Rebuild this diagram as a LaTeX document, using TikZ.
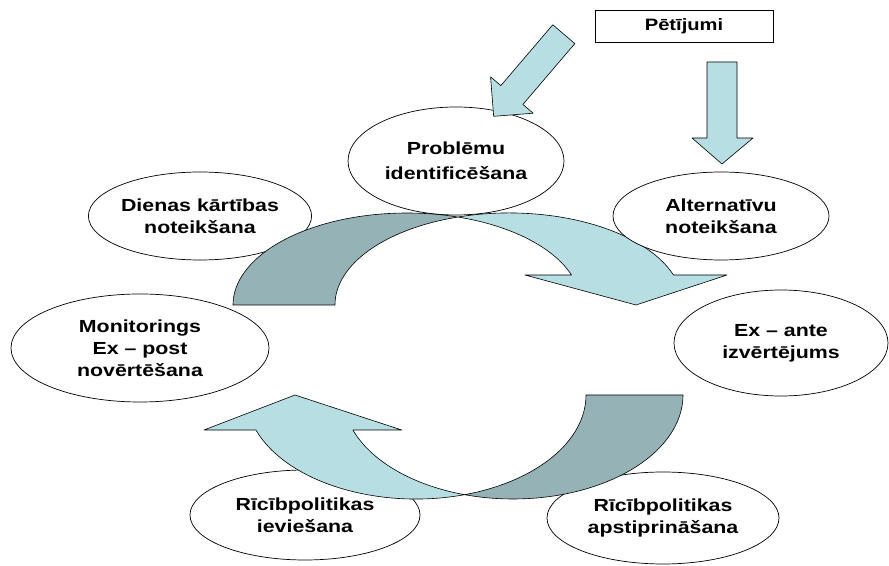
\documentclass[tikz,border=0pt]{standalone}
\usepackage{fontspec}
\setmainfont{Liberation Sans}[FakeStretch=1.22]
\usetikzlibrary{shapes.geometric}
\definecolor{bandlight}{RGB}{183,222,226}
\definecolor{banddark}{RGB}{149,178,182}

\begin{document}
\begin{tikzpicture}[x=1pt, y=1pt,
	stage/.style={ellipse, draw, fill=white, line width=0.7pt, inner sep=0pt,
	align=center, font=\bfseries\fontsize{17.5}{22}\selectfont},
	band/.style={draw, line width=0.6pt, line join=round},
	topring/.style={x radius=174, y radius=92},
	botring/.style={x radius=170, y radius=104}]
\useasboundingbox (0,0) rectangle (889,565);

\node[draw, line width=0.7pt, minimum width=178pt, minimum height=32pt,
	font=\bfseries\fontsize{16.5}{22}\selectfont] at (684,539) (research) {Pētījumi};

\node[stage, minimum width=216pt, minimum height=88pt] at (200,349) (agenda) {Dienas kārtības\\noteikšana};
\node[stage, minimum width=258pt, minimum height=108pt] at (140,217) (monitor) {Monitorings\\Ex -- post\\novērtēšana};
\node[stage, minimum width=230pt, minimum height=90pt] at (305,50) (implement) {Rīcībpolitikas\\ieviešana};
\node[stage, minimum width=232pt, minimum height=92pt] at (663,47) (adopt) {Rīcībpolitikas\\apstiprināšana};
\node[stage, minimum width=214pt, minimum height=106pt] at (781,222) (exante) {Ex -- ante\\izvērtējums};
\node[stage, minimum width=216pt, minimum height=108pt,
	font=\bfseries\fontsize{17.5}{25}\selectfont] at (456,404) (problem) {Problēmu\\identificēšana};

% upper half of the cycle
\path[band, fill=banddark] (233,260) arc[topring, start angle=180, end angle=72.96]
	arc[topring, start angle=107.04, end angle=180] -- cycle;
\path[band, fill=bandlight] (458,348) arc[topring, start angle=107.04, end angle=19.03]
	-- (727,290) -- (636,260) -- (525,290) -- (571.5,290)
	arc[topring, start angle=19.03, end angle=72.96] -- cycle;

% lower half of the cycle
\path[band, fill=banddark] (683,170) arc[botring, start angle=360, end angle=253.42]
	arc[botring, start angle=286.58, end angle=360] -- cycle;
\path[band, fill=bandlight] (464.5,70.3) arc[botring, start angle=286.58, end angle=199.67]
	-- (204,135) -- (295,170) -- (401.7,135) -- (352.9,135)
	arc[botring, start angle=199.67, end angle=253.42] -- cycle;

% research feeds in
\path[band, fill=bandlight] (707,503) -- (737,503) -- (737,427) -- (753,427)
	-- (722,401) -- (692,427) -- (707,427) -- cycle;
\begin{scope}[shift={(563.8,530.8)}, rotate=-130.5]
\path[band, fill=bandlight] (0,-14.5) -- (80,-14.5) -- (80,-28) -- (108,0)
	-- (80,28) -- (80,14.5) -- (0,14.5) -- cycle;
\end{scope}

\node[stage, minimum width=216pt, minimum height=88pt] at (721,349) (options) {Alternatīvu\\noteikšana};
\end{tikzpicture}
\end{document}
